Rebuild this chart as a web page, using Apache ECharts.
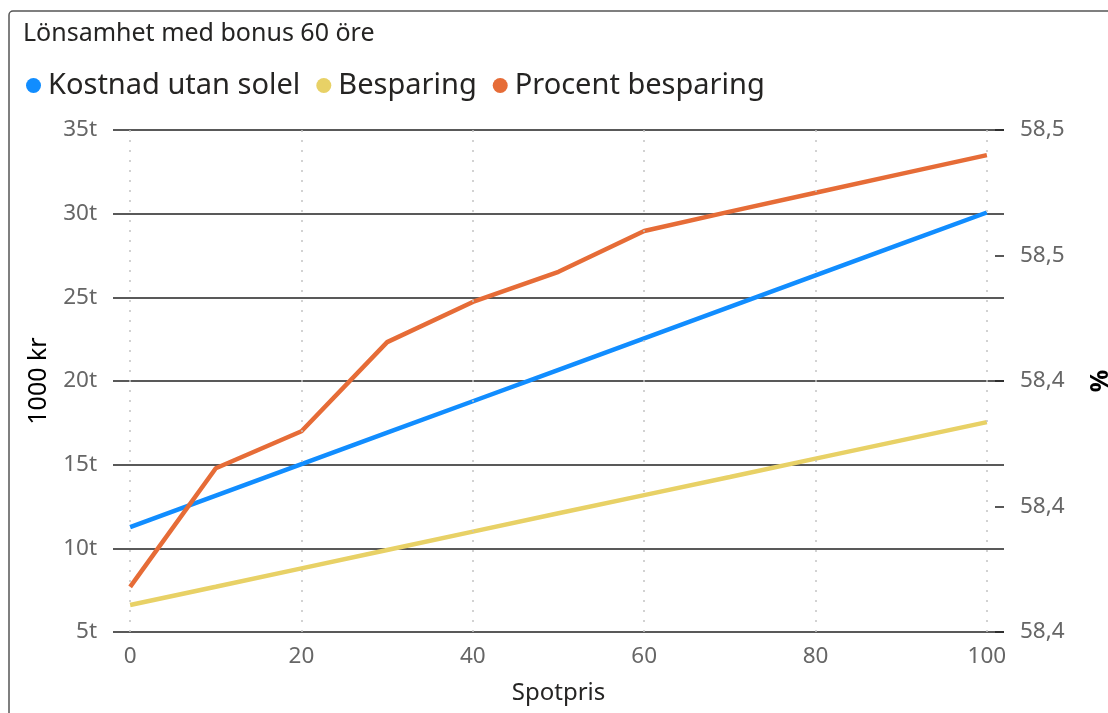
<!DOCTYPE html>
<html>
<head>
<meta charset="utf-8">
<script src="https://cdn.jsdelivr.net/npm/echarts@6/dist/echarts.min.js"></script>
<style>
  html, body { margin: 0; padding: 0; background: #fff; }
  #chart { width: 1108px; height: 713px; }
</style>
</head>
<body>
<div id="chart"></div>
<script>
// Spotpris (öre) along the x axis
const spotpris = [0, 10, 20, 30, 40, 50, 60, 70, 80, 90, 100];
const xTicks = [0, 20, 40, 60, 80, 100];

// Values in kr
const kostnadUtanSolel = [11270, 13150, 15030, 16910, 18790, 20670, 22550, 24430, 26310, 28190, 30070];
const besparing = [6610, 7700, 8800, 9900, 11000, 12100, 13180, 14260, 15360, 16450, 17540];

// Savings in percent (right axis)
const procentBesparing = [58.4072, 58.4261, 58.4320, 58.4462, 58.4526, 58.4574, 58.4639, 58.4670, 58.4700, 58.4730, 58.4760];

const pairs = (ys) => spotpris.map((x, i) => [x, ys[i]]);

const chart = echarts.init(document.getElementById('chart'));
const font = 'Noto Sans';
const tickFont = 22.5;

chart.setOption({
  animation: false,
  backgroundColor: '#fff',
  textStyle: { fontFamily: font },
  graphic: [{
    type: 'rect',
    shape: { x: 9, y: 11, width: 1300, height: 900, r: 4 },
    style: { fill: 'none', stroke: '#555', lineWidth: 1.5 },
    silent: true, z: -10
  }],
  title: {
    text: 'Lönsamhet med bonus 60 öre',
    left: 18, top: 16,
    textStyle: { fontFamily: font, fontSize: 25, fontWeight: 'normal', color: '#252423' }
  },
  legend: {
    left: 21, top: 66,
    icon: 'circle',
    itemWidth: 15, itemHeight: 15, itemGap: 16,
    textStyle: { fontFamily: font, fontSize: 29, color: '#252423', padding: [0, 0, 0, 2] },
    data: ['Kostnad utan solel', 'Besparing', 'Procent besparing']
  },
  grid: { left: 113, right: 104, top: 130, bottom: 81, containLabel: false, outerBoundsMode: 'none' },
  xAxis: {
    type: 'value',
    min: -2, max: 102, interval: 2,
    name: 'Spotpris',
    nameLocation: 'middle',
    nameGap: 49,
    nameTextStyle: { fontFamily: font, fontSize: 24, color: '#252423' },
    axisLine: { show: false },
    axisTick: { show: false },
    splitLine: { show: false },
    axisLabel: {
      fontFamily: font, fontSize: tickFont, color: '#666', margin: 13,
      formatter: (v) => (xTicks.indexOf(Math.round(v)) >= 0 ? String(Math.round(v)) : '')
    }
  },
  yAxis: [{
    type: 'value',
    min: 5000, max: 35000, interval: 5000,
    name: '1000 kr',
    nameLocation: 'middle',
    nameRotate: 90,
    nameGap: 62,
    nameTextStyle: { fontFamily: font, fontSize: 25, color: '#000' },
    axisLine: { show: false },
    axisTick: { show: false },
    axisLabel: {
      fontFamily: font, fontSize: tickFont, color: '#666', margin: 16,
      formatter: (v) => (v / 1000) + 't'
    },
    splitLine: { show: true, lineStyle: { color: '#222', width: 1.5 } }
  }, {
    type: 'value',
    min: 58.40, max: 58.48, interval: 0.02,
    name: '%',
    nameLocation: 'middle',
    nameRotate: 90,
    nameGap: 84,
    nameTextStyle: { fontFamily: font, fontSize: 25, color: '#000', fontWeight: 'bold' },
    axisLine: { show: false },
    axisTick: { show: true, inside: true, length: 9, lineStyle: { color: '#222', width: 1.5 } },
    axisLabel: {
      fontFamily: font, fontSize: tickFont, color: '#666', margin: 16,
      formatter: (v) => v.toFixed(1).replace('.', ',')
    },
    splitLine: { show: false }
  }],
  series: [{
    name: 'Kostnad utan solel',
    type: 'line',
    yAxisIndex: 0,
    data: pairs(kostnadUtanSolel),
    symbol: 'none',
    lineStyle: { width: 4.5, color: '#118DFF' },
    itemStyle: { color: '#118DFF' },
    markLine: {
      silent: true,
      symbol: 'none',
      label: { show: false },
      lineStyle: { color: '#c4c4c4', type: [2, 8], width: 1.5 },
      data: xTicks.map((x) => ({ xAxis: x }))
    },
    z: 3
  }, {
    name: 'Besparing',
    type: 'line',
    yAxisIndex: 0,
    data: pairs(besparing),
    symbol: 'none',
    lineStyle: { width: 4.5, color: '#E8D166' },
    itemStyle: { color: '#E8D166' },
    z: 2
  }, {
    name: 'Procent besparing',
    type: 'line',
    yAxisIndex: 1,
    data: pairs(procentBesparing),
    symbol: 'none',
    lineStyle: { width: 4.5, color: '#E66C37' },
    itemStyle: { color: '#E66C37' },
    z: 4
  }]
});
</script>
</body>
</html>
